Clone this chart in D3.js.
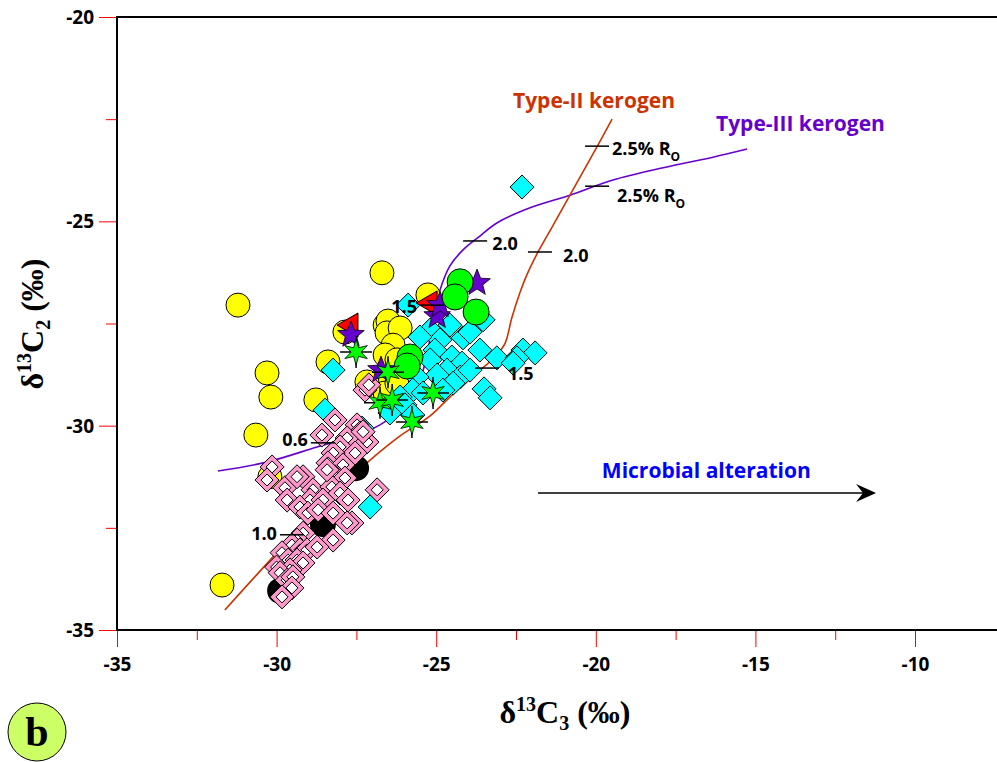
<!DOCTYPE html>
<html>
<head>
<meta charset="utf-8">
<script src="https://cdn.jsdelivr.net/npm/d3@7"></script>
<style>
  body { margin: 0; background: #fff; }
  svg { display: block; }
</style>
</head>
<body>
<svg id="chart" width="997" height="762"></svg>
<script>
// ---- axis ticks ----
const xMajorTicks = [-35, -30, -25, -20, -15, -10];
const xMinorTicks = [-32.5, -27.5, -22.5, -17.5, -12.5];
const yMajorTicks = [-35, -30, -25, -20];
const yMinorTicks = [-32.5, -27.5, -22.5];

// ---- kerogen maturity trends (δ13C3, δ13C2) ----
const typeIIX = [-31.62, -30.11, -28.64, -27.17, -26.13, -25.19, -24.57, -23.72, -23.10, -22.84, -22.63, -22.37, -22.16, -21.81, -21.37, -20.81, -19.93, -19.49];
const typeIIY = [-34.51, -33.21, -31.99, -30.91, -30.25, -29.76, -29.30, -28.71, -28.27, -27.98, -27.36, -26.73, -26.31, -25.75, -25.14, -24.36, -23.13, -22.50];
const typeIIIX = [-31.84, -30.30, -28.73, -27.70, -26.76, -25.98, -25.51, -25.26, -25.10, -24.88, -24.57, -24.16, -23.63, -23.10, -22.06, -20.81, -19.46, -17.89, -16.33, -15.26];
const typeIIIY = [-31.11, -30.89, -30.52, -30.28, -29.98, -29.49, -28.88, -28.15, -27.41, -26.68, -26.09, -25.70, -25.36, -25.04, -24.67, -24.36, -23.99, -23.69, -23.43, -23.23];

// maturity marks along the trends (%Ro)
const maturityText  = ["2.5% R", "2.0", "1.5", "1.0", "0.6", "1.5", "2.0", "2.5% R"];
const maturityCurve = ["II", "II", "II", "II", "III", "III", "III", "III"];
const maturityX = [-19.96, -21.75, -23.41, -29.52, -28.55, -25.13, -23.78, -19.96];
const maturityY = [-23.16, -25.75, -28.59, -32.67, -30.42, -27.05, -25.48, -24.14];

// ---- samples ----
const yellowX = [-26.70, -31.21, -30.30, -30.18, -30.65, -28.77, -31.71, -28.39, -27.86, -25.26, -26.60, -26.51, -26.54, -26.13, -26.35, -26.60, -26.23, -26.45, -26.60, -30.21, -27.17, -26.23];
const yellowY = [-26.26, -27.05, -28.71, -29.30, -30.23, -29.37, -33.90, -28.44, -27.71, -26.80, -27.54, -27.44, -27.73, -27.61, -28.03, -28.27, -28.39, -28.96, -29.20, -31.25, -28.93, -28.96];

const cyanX = [-22.31, -28.23, -28.48, -27.32, -27.48, -27.07, -25.88, -23.53, -25.19, -24.57, -24.16, -24.88, -23.63, -23.10, -22.28, -21.90, -22.47, -25.04, -24.51, -24.19, -24.66, -25.19, -24.97, -24.25, -23.94, -24.47, -25.60, -25.73, -25.41, -23.50, -23.31, -26.45, -26.13, -25.98, -25.51, -23.94, -22.59, -24.79, -25.73];
const cyanY = [-24.16, -28.64, -29.62, -30.06, -30.42, -31.99, -27.05, -27.41, -27.66, -27.54, -27.85, -27.90, -28.15, -28.34, -28.15, -28.22, -28.34, -28.15, -28.32, -28.47, -28.64, -28.39, -28.76, -28.81, -28.64, -28.96, -28.81, -29.13, -29.20, -29.10, -29.32, -29.69, -29.30, -29.49, -27.83, -27.71, -28.47, -29.13, -29.74];

const pinkX = [-28.17, -28.58, -27.48, -27.39, -27.17, -27.79, -28.01, -27.54, -28.23, -28.39, -27.92, -28.17, -27.86, -29.17, -30.14, -30.30, -29.74, -28.86, -28.27, -28.01, -27.76, -26.85, -28.95, -29.67, -29.27, -28.55, -29.02, -28.70, -28.23, -27.64, -28.23, -29.17, -29.36, -29.52, -29.27, -29.05, -28.73, -29.83, -29.64, -29.36, -29.17, -30.00, -29.58, -29.89, -29.67, -29.49, -29.52, -29.83, -27.23, -27.11, -27.29, -27.79, -29.36, -28.42];
const pinkY = [-29.86, -30.23, -29.98, -30.18, -30.40, -30.30, -30.52, -30.67, -30.67, -30.91, -30.96, -31.25, -31.28, -31.25, -31.01, -31.33, -31.52, -31.57, -31.50, -31.65, -31.82, -31.57, -31.82, -31.82, -31.99, -31.82, -32.14, -32.06, -32.14, -32.38, -32.80, -32.63, -32.80, -32.92, -33.04, -33.04, -32.97, -33.11, -33.29, -33.29, -33.36, -33.46, -33.53, -33.60, -33.78, -33.70, -33.97, -34.19, -29.13, -29.00, -30.15, -32.38, -31.25, -31.08];

const blackX = [-27.51, -28.55, -29.89];
const blackY = [-31.04, -32.41, -34.04];

const greenX = [-24.25, -24.41, -23.75, -25.82, -25.91];
const greenY = [-26.48, -26.85, -27.22, -28.32, -28.54];

const redX = [-27.67, -25.19];
const redY = [-27.54, -27.00];

const purpleStarX = [-27.67, -24.97, -23.72, -26.73, -24.88];
const purpleStarY = [-27.78, -27.32, -26.51, -28.64, -27.05];

const greenStarX = [-27.51, -26.51, -26.76, -26.38, -25.10, -25.76];
const greenStarY = [-28.20, -28.69, -29.44, -29.37, -29.20, -29.91];

// ---- drawing ----
const svg = d3.select("#chart");
const FONT = "'Open Sans', 'DejaVu Sans', sans-serif";
const SERIF = "'Liberation Serif', 'Times New Roman', serif";

const x = d3.scaleLinear().domain([-35, -10]).range([117, 915]);
const y = d3.scaleLinear().domain([-35, -20]).range([630, 17]);
const plotRight = 997;

// axes: red ticks, black frame
function styleAxis(g) {
  g.select(".domain").remove();
  g.selectAll(".tick line").attr("stroke", "#ff0000").attr("stroke-width", 1);
  g.selectAll(".tick text")
    .attr("font-family", FONT).attr("font-weight", 700)
    .attr("font-size", 19).attr("fill", "#000");
}

const gxMinor = svg.append("g").attr("transform", `translate(0,${y(-35)})`)
  .call(d3.axisBottom(x).tickValues(xMinorTicks).tickSize(10).tickFormat(""));
styleAxis(gxMinor);
const gx = svg.append("g").attr("transform", `translate(0,${y(-35)})`)
  .call(d3.axisBottom(x).tickValues(xMajorTicks).tickSize(17).tickFormat(d => String(d)));
styleAxis(gx);
gx.selectAll(".tick text").attr("y", 28).attr("dy", "0.71em");

const gyMinor = svg.append("g").attr("transform", `translate(${x(-35)},0)`)
  .call(d3.axisLeft(y).tickValues(yMinorTicks).tickSize(11).tickFormat(""));
styleAxis(gyMinor);
const gy = svg.append("g").attr("transform", `translate(${x(-35)},0)`)
  .call(d3.axisLeft(y).tickValues(yMajorTicks).tickSize(18).tickFormat(d => String(d)));
styleAxis(gy);
gy.selectAll(".tick text").attr("x", -23).attr("dy", "0.35em");

// frame (top, left, bottom)
svg.append("path")
  .attr("d", `M${plotRight},${y(-20)}H${x(-35)}V${y(-35)}H${plotRight}`)
  .attr("fill", "none").attr("stroke", "#000").attr("stroke-width", 2);

// axis titles
function axisTitle(sel, sub) {
  sel.append("tspan").text("δ");
  sel.append("tspan").attr("font-size", 20).attr("dy", -12).text("13");
  sel.append("tspan").attr("dy", 12).text("C");
  sel.append("tspan").attr("font-size", 20).attr("dy", 7).text(sub);
  sel.append("tspan").attr("dy", -7).text(" (‰)");
}
const xt = svg.append("text")
  .attr("x", 565).attr("y", 723)
  .attr("text-anchor", "middle")
  .attr("font-family", SERIF).attr("font-weight", 700).attr("font-size", 32);
axisTitle(xt, "3");

const yt = svg.append("text")
  .attr("transform", "translate(43,324) rotate(-90)")
  .attr("text-anchor", "middle")
  .attr("font-family", SERIF).attr("font-weight", 700).attr("font-size", 32);
axisTitle(yt, "2");

// kerogen trend lines
const trend = d3.line().x(d => x(d[0])).y(d => y(d[1])).curve(d3.curveCatmullRom.alpha(0.5));
svg.append("path").datum(d3.zip(typeIIIX, typeIIIY))
  .attr("d", trend).attr("fill", "none").attr("stroke", "#6600cc").attr("stroke-width", 1.6);
svg.append("path").datum(d3.zip(typeIIX, typeIIY))
  .attr("d", trend).attr("fill", "none").attr("stroke", "#cc3300").attr("stroke-width", 1.6);

// marker shapes
const diamondPath = h => `M0,${-h}L${h},0L0,${h}L${-h},0Z`;
const leftTriPath = r => `M${0.5 * r},${-0.866 * r}L${0.5 * r},${0.866 * r}L${-r},0Z`;
function starPath(n, ro, ri) {
  const pts = [];
  for (let i = 0; i < 2 * n; i++) {
    const a = -Math.PI / 2 + i * Math.PI / n;
    const r = i % 2 ? ri : ro;
    pts.push([r * Math.cos(a), r * Math.sin(a)]);
  }
  return "M" + pts.map(p => p[0].toFixed(2) + "," + p[1].toFixed(2)).join("L") + "Z";
}

function place(xs, ys) { return d3.zip(xs, ys); }
const tr = d => `translate(${x(d[0])},${y(d[1])})`;

// yellow circles
svg.append("g").selectAll("circle").data(place(yellowX, yellowY)).join("circle")
  .attr("cx", d => x(d[0])).attr("cy", d => y(d[1])).attr("r", 12)
  .attr("fill", "#ffff00").attr("stroke", "#000").attr("stroke-width", 1);

// cyan diamonds
svg.append("g").selectAll("path").data(place(cyanX, cyanY)).join("path")
  .attr("transform", tr).attr("d", diamondPath(12))
  .attr("fill", "#00ffff").attr("stroke", "#000").attr("stroke-width", 1);

// black circles
svg.append("g").selectAll("circle").data(place(blackX, blackY)).join("circle")
  .attr("cx", d => x(d[0])).attr("cy", d => y(d[1])).attr("r", 13)
  .attr("fill", "#000");

// pink double diamonds
const pg = svg.append("g").selectAll("g").data(place(pinkX, pinkY)).join("g").attr("transform", tr);
pg.append("path").attr("d", diamondPath(12))
  .attr("fill", "#ff99cc").attr("stroke", "#000").attr("stroke-width", 1);
pg.append("path").attr("d", diamondPath(6))
  .attr("fill", "#fff").attr("stroke", "#000").attr("stroke-width", 1);

// red triangles
svg.append("g").selectAll("path").data(place(redX, redY)).join("path")
  .attr("transform", tr).attr("d", leftTriPath(14))
  .attr("fill", "#ff0000").attr("stroke", "#000").attr("stroke-width", 1);

// purple stars
svg.append("g").selectAll("path").data(place(purpleStarX, purpleStarY)).join("path")
  .attr("transform", tr).attr("d", starPath(5, 14, 6))
  .attr("fill", "#6600cc").attr("stroke", "#000").attr("stroke-width", 0.8);

// green circles
svg.append("g").selectAll("circle").data(place(greenX, greenY)).join("circle")
  .attr("cx", d => x(d[0])).attr("cy", d => y(d[1])).attr("r", 13)
  .attr("fill", "#00ff00").attr("stroke", "#000").attr("stroke-width", 1);

// green stars with cross hairs
const gs = svg.append("g").selectAll("g").data(place(greenStarX, greenStarY)).join("g").attr("transform", tr);
gs.append("path").attr("d", "M-16,0H16M0,-16V16").attr("stroke", "#000").attr("stroke-width", 1.5);
gs.append("path").attr("d", starPath(6, 13, 5))
  .attr("fill", "#00ff00").attr("stroke", "#000").attr("stroke-width", 0.8);

// maturity ticks and labels
const matLayout = [
  { dx: 15, dy: 9, anchor: "start" },
  { dx: 23, dy: 10, anchor: "start" },
  { dx: 21, dy: 12, anchor: "start" },
  { dx: -15, dy: 5, anchor: "end" },
  { dx: -15, dy: 3, anchor: "end" },
  { dx: -15, dy: 8, anchor: "end" },
  { dx: 17, dy: 9, anchor: "start" },
  { dx: 20, dy: 16, anchor: "start" }
];
maturityText.forEach((t, i) => {
  const cx = x(maturityX[i]), cy = y(maturityY[i]);
  svg.append("line")
    .attr("x1", cx - 12).attr("x2", cx + 12).attr("y1", cy).attr("y2", cy)
    .attr("stroke", "#000").attr("stroke-width", 1.5);
  const L = matLayout[i];
  const txt = svg.append("text")
    .attr("x", cx + L.dx).attr("y", cy + L.dy)
    .attr("text-anchor", L.anchor)
    .attr("font-family", FONT).attr("font-weight", 700).attr("font-size", 18)
    .attr("fill", "#000");
  txt.append("tspan").text(t);
  if (t.endsWith("R")) txt.append("tspan").attr("font-size", 12).attr("dy", 6).text("O");
});

// trend labels
svg.append("text").attr("x", 513).attr("y", 108)
  .attr("font-family", FONT).attr("font-weight", 700).attr("font-size", 21)
  .attr("fill", "#cc3300").text("Type-II kerogen");
svg.append("text").attr("x", 716).attr("y", 131)
  .attr("font-family", FONT).attr("font-weight", 700).attr("font-size", 21)
  .attr("fill", "#6600cc").text("Type-III kerogen");

// microbial alteration arrow
const ay = y(-31.65);
svg.append("line").attr("x1", x(-21.81)).attr("x2", x(-11.22) - 10).attr("y1", ay).attr("y2", ay)
  .attr("stroke", "#000").attr("stroke-width", 1.5);
const tipX = x(-11.22);
svg.append("path")
  .attr("d", `M${tipX},${ay}L${tipX - 20},${ay - 9}L${tipX - 13},${ay}L${tipX - 20},${ay + 9}Z`)
  .attr("fill", "#000");
svg.append("text").attr("x", x(-19.81)).attr("y", y(-31.28))
  .attr("font-family", FONT).attr("font-weight", 700).attr("font-size", 21)
  .attr("fill", "#0000ff").text("Microbial alteration");

// panel letter
svg.append("circle").attr("cx", 37).attr("cy", 732).attr("r", 29)
  .attr("fill", "#ccff66").attr("stroke", "#000").attr("stroke-width", 1);
svg.append("text").attr("x", 37).attr("y", 746).attr("text-anchor", "middle")
  .attr("font-family", SERIF).attr("font-weight", 700).attr("font-size", 42)
  .attr("fill", "#000").text("b");
</script>
</body>
</html>
